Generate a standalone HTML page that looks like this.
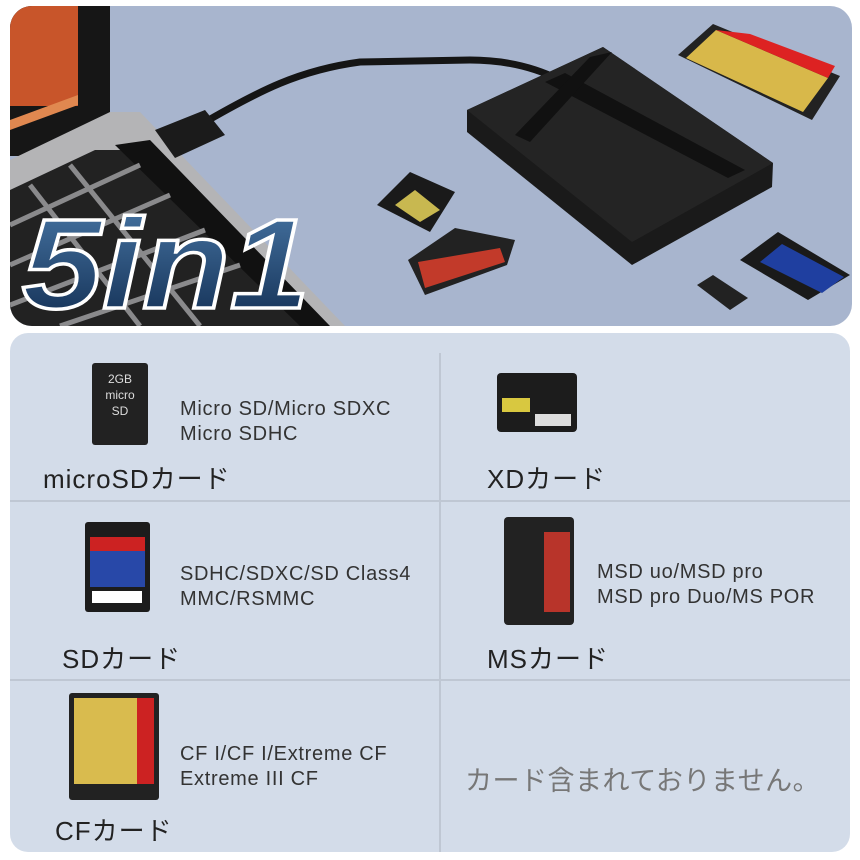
<!DOCTYPE html>
<html><head><meta charset="utf-8"><style>
body{margin:0;width:860px;height:860px;background:#fff;position:relative;overflow:hidden;font-family:"Liberation Sans","Noto Sans CJK JP",sans-serif}
.a{position:absolute}
.d{font-size:20px;color:#333;line-height:25px;letter-spacing:0.7px}
.l{font-size:26px;color:#222;letter-spacing:1px}
</style></head><body>
<svg class="a" style="left:0;top:0" width="860" height="330">
<defs>
<clipPath id="c"><rect x="10" y="6" width="842" height="320" rx="22"/></clipPath>
<linearGradient id="g5" x1="0" y1="0" x2="0" y2="1"><stop offset="0" stop-color="#4a79a8"/><stop offset="1" stop-color="#0f2a4e"/></linearGradient>
</defs>
<g clip-path="url(#c)">
<rect x="0" y="0" width="860" height="330" fill="#a8b5ce"/>
<rect x="10" y="6" width="100" height="150" fill="#161616"/>
<rect x="10" y="6" width="68" height="100" fill="#c8552a"/>
<polygon points="10,120 78,95 78,105 10,130" fill="#e08850"/>
<polygon points="10,160 110,112 140,112 345,326 10,326" fill="#b4b4b6"/>
<polygon points="10,190 95,150 132,150 310,326 10,326" fill="#222"/>
<polygon points="115,145 150,140 330,326 300,326" fill="#111"/>
<g stroke="#8a8a8c" stroke-width="5">
<line x1="10" y1="225" x2="140" y2="165"/><line x1="10" y1="265" x2="170" y2="195"/><line x1="10" y1="305" x2="205" y2="230"/><line x1="60" y1="326" x2="240" y2="265"/>
<line x1="70" y1="165" x2="200" y2="326"/><line x1="30" y1="185" x2="140" y2="326"/>
</g>
<path d="M200,125 C260,90 300,70 360,62 L470,60 Q520,60 560,80" stroke="#151515" stroke-width="7" fill="none"/>
<polygon points="155,130 205,110 225,135 175,158" fill="#1b1b1b"/>
<polygon points="467,110 603,47 773,163 772,187 632,265 467,132" fill="#1a1a1a"/>
<polygon points="467,110 603,47 773,163 632,242" fill="#242424"/>
<polygon points="545,82 565,73 745,170 728,178" fill="#111"/>
<polygon points="590,57 612,52 530,142 515,135" fill="#111"/>
<polygon points="678,55 713,24 840,76 812,120" fill="#222"/>
<polygon points="686,58 716,30 828,78 803,112" fill="#d8b84a"/>
<polygon points="750,34 716,30 828,78 835,66" fill="#d22"/>
<polygon points="740,260 778,232 850,275 808,300" fill="#1a1a1a"/>
<polygon points="760,262 782,244 844,277 822,293" fill="#1f3fa0"/>
<polygon points="697,285 713,275 748,298 730,310" fill="#222"/>
<polygon points="408,260 455,228 515,240 507,265 425,295" fill="#222"/>
<polygon points="418,262 500,248 505,262 425,288" fill="#c23a2a"/>
<polygon points="377,205 410,172 455,192 430,232" fill="#1a1a1a"/>
<polygon points="395,205 415,190 440,210 420,222" fill="#c8b850"/>
</g>
<text x="22" y="308" font-family="Liberation Sans,sans-serif" font-size="128" font-weight="bold" font-style="italic" fill="url(#g5)" stroke="#fff" stroke-width="3.5" textLength="288" lengthAdjust="spacingAndGlyphs">5in1</text>
</svg>

<div class="a" style="left:10px;top:333px;width:840px;height:519px;background:#d3dce9;border-radius:18px;overflow:hidden">
<div class="a" style="left:0;top:167px;width:840px;height:2px;background:#bfc7d3"></div>
<div class="a" style="left:0;top:346px;width:840px;height:2px;background:#bfc7d3"></div>
<div class="a" style="left:429px;top:20px;width:2px;height:499px;background:#bfc7d3"></div>
</div>

<div class="a" style="left:92px;top:363px;width:56px;height:82px;background:#222;border-radius:3px;color:#ddd;font-size:12px;text-align:center;line-height:16px;padding-top:8px;box-sizing:border-box">2GB<br>micro<br>SD</div>
<div class="a d" style="left:180px;top:397px">Micro SD/Micro SDXC<br>Micro SDHC</div>
<div class="a l" style="left:43px;top:459px">microSDカード</div>

<div class="a" style="left:497px;top:373px;width:80px;height:59px;background:#1c1c1c;border-radius:4px"></div>
<div class="a" style="left:502px;top:398px;width:28px;height:14px;background:#d8c840"></div>
<div class="a" style="left:535px;top:414px;width:36px;height:12px;background:#ddd"></div>
<div class="a l" style="left:487px;top:459px">XDカード</div>

<div class="a" style="left:85px;top:522px;width:65px;height:90px;background:#1c1c1c;border-radius:3px"></div>
<div class="a" style="left:90px;top:537px;width:55px;height:50px;background:#2848a8"></div>
<div class="a" style="left:90px;top:537px;width:55px;height:14px;background:#c22"></div>
<div class="a" style="left:92px;top:591px;width:50px;height:12px;background:#fff"></div>
<div class="a d" style="left:180px;top:562px">SDHC/SDXC/SD Class4<br>MMC/RSMMC</div>
<div class="a l" style="left:62px;top:639px">SDカード</div>

<div class="a" style="left:504px;top:517px;width:70px;height:108px;background:#222;border-radius:4px"></div>
<div class="a" style="left:544px;top:532px;width:26px;height:80px;background:#b8342a"></div>
<div class="a d" style="left:597px;top:560px">MSD uo/MSD pro<br>MSD pro Duo/MS POR</div>
<div class="a l" style="left:487px;top:639px">MSカード</div>

<div class="a" style="left:69px;top:693px;width:90px;height:107px;background:#222;border-radius:3px"></div>
<div class="a" style="left:74px;top:698px;width:80px;height:86px;background:#d9bb4e"></div>
<div class="a" style="left:137px;top:698px;width:17px;height:86px;background:#cc2222"></div>
<div class="a d" style="left:180px;top:742px">CF I/CF I/Extreme CF<br>Extreme III CF</div>
<div class="a l" style="left:55px;top:811px">CFカード</div>

<div class="a" style="left:465px;top:759px;font-size:27px;color:#777;letter-spacing:0.5px">カード含まれておりません。</div>
</body></html>
